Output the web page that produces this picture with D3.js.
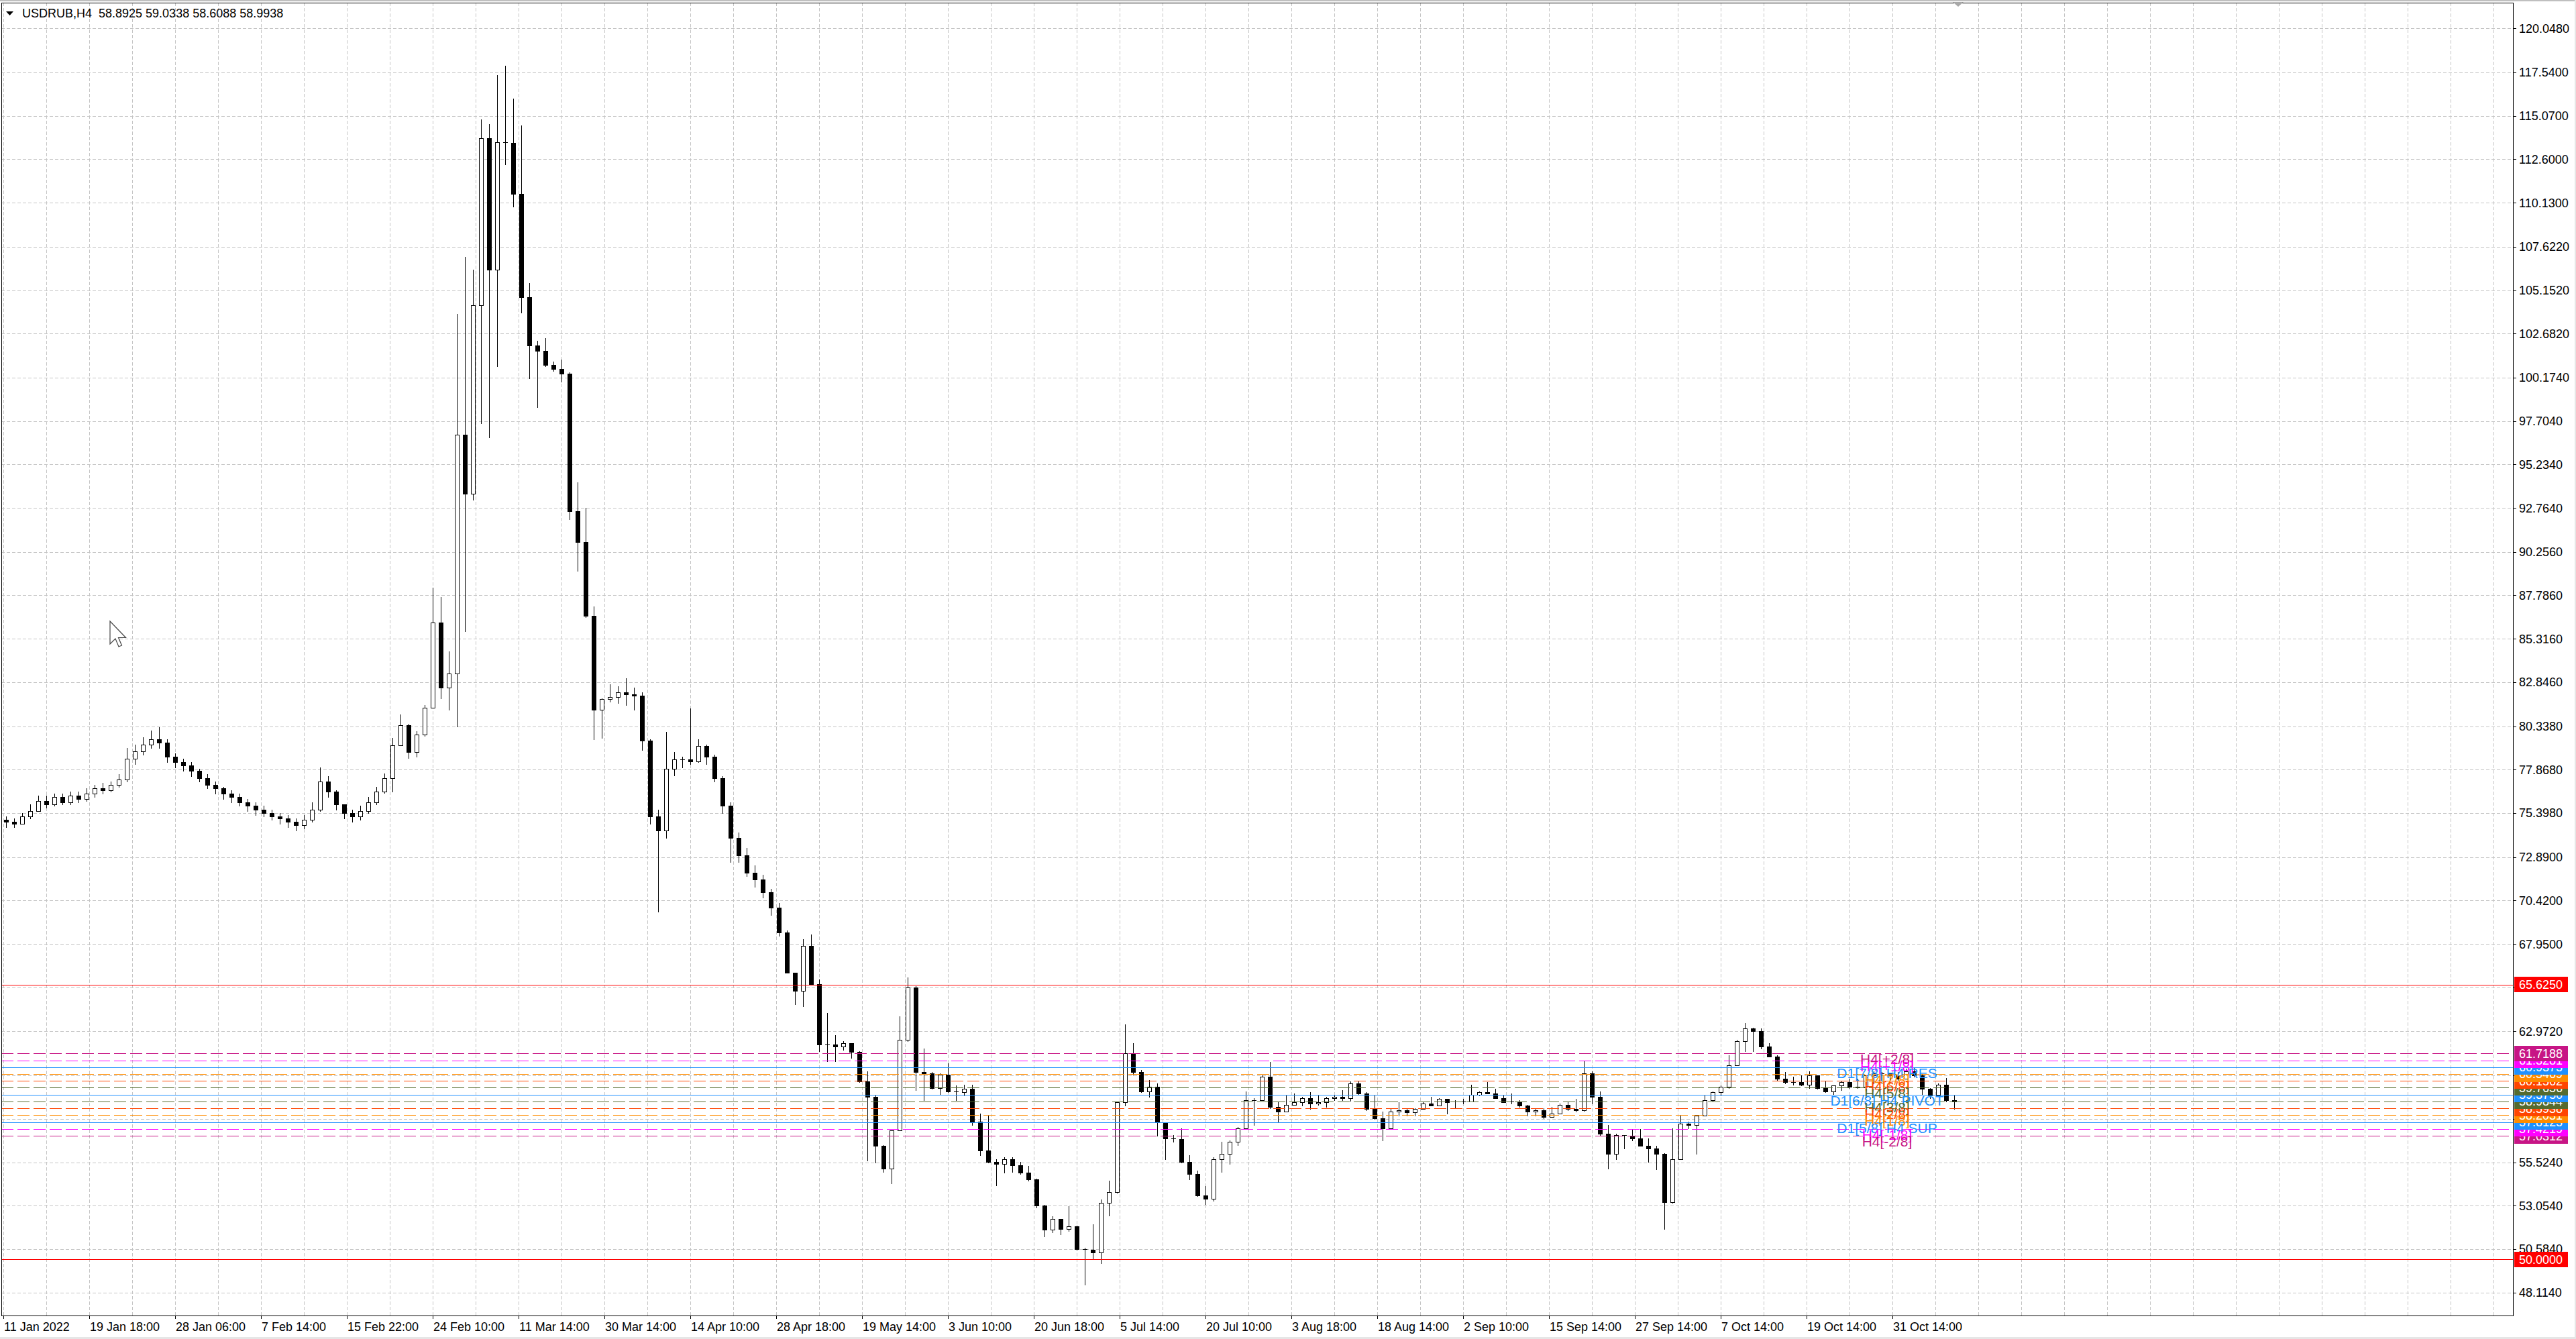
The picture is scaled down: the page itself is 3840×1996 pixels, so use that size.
<!DOCTYPE html>
<html><head><meta charset="utf-8">
<script src="https://cdn.jsdelivr.net/npm/d3@7"></script>
<style>html,body{margin:0;padding:0;background:#fff;overflow:hidden}text{font-family:"Liberation Sans",Arial,sans-serif}</style>
</head><body>
<svg id="c" width="3840" height="1996"></svg>
<script>
// ---------------- DATA ----------------
const titleText = "USDRUB,H4  58.8925 59.0338 58.6088 58.9938";
const priceTicks = [120.048,117.54,115.07,112.6,110.13,107.622,105.152,102.682,100.174,97.704,95.234,92.764,90.256,87.786,85.316,82.846,80.338,77.868,75.398,72.89,70.42,67.95,62.972,55.524,53.054,50.584,48.114];
const priceTickLabels = ["120.0480","117.5400","115.0700","112.6000","110.1300","107.6220","105.1520","102.6820","100.1740","97.7040","95.2340","92.7640","90.2560","87.7860","85.3160","82.8460","80.3380","77.8680","75.3980","72.8900","70.4200","67.9500","62.9720","55.5240","53.0540","50.5840","48.1140"];
const hiddenGridPrices = [65.461, 60.489, 58.007];
const timeLabels = ["11 Jan 2022","19 Jan 18:00","28 Jan 06:00","7 Feb 14:00","15 Feb 22:00","24 Feb 10:00","11 Mar 14:00","30 Mar 14:00","14 Apr 10:00","28 Apr 18:00","19 May 14:00","3 Jun 10:00","20 Jun 18:00","5 Jul 14:00","20 Jul 10:00","3 Aug 18:00","18 Aug 14:00","2 Sep 10:00","15 Sep 14:00","27 Sep 14:00","7 Oct 14:00","19 Oct 14:00","31 Oct 14:00"];
const barsPerLabel = 32, barsPerGrid = 16, barsPerCandle = 3;

const firstOpen = 75.0;
const closes = [
74.9,74.8,75.2,75.5,76.1,75.9,76.3,76.0,76.4,76.2,
76.5,76.8,76.7,77.0,77.3,78.5,78.9,79.3,79.6,79.4,
78.6,78.3,78.1,77.8,77.4,77.0,76.8,76.5,76.3,76.0,
75.8,75.6,75.4,75.2,75.1,74.9,74.7,75.0,75.6,77.2,
76.6,75.9,75.4,75.2,75.5,76.0,76.6,77.39,79.26,80.38,
78.86,79.85,81.40,86.22,82.52,83.33,96.93,93.58,104.29,113.79,
106.30,113.58,113.52,110.63,104.74,102.01,101.69,100.89,100.67,100.41,
92.59,90.82,86.62,81.27,81.88,81.99,82.26,82.15,82.07,79.53,
75.2,74.4,77.92,78.46,78.46,78.32,79.2,78.6,77.4,75.8,
74.0,73.0,72.0,71.6,70.9,70.0,68.6,66.31,65.29,67.84,
65.68,62.24,62.24,62.11,62.30,61.79,60.14,59.25,56.45,55.18,
57.34,62.49,65.48,60.65,60.59,59.76,60.52,59.57,59.50,59.69,
57.85,56.20,55.56,55.43,55.69,55.37,54.92,54.54,53.08,51.68,
52.31,51.74,51.87,50.60,50.53,50.41,53.20,53.84,58.93,61.73,
60.65,59.57,59.82,57.79,56.89,56.83,55.56,54.86,53.65,53.46,
55.69,56.00,56.70,57.47,59.06,59.06,60.39,58.68,58.42,58.80,
58.93,59.19,58.87,58.93,59.19,59.25,59.19,60.01,59.44,58.55,
58.04,57.47,58.42,58.49,58.36,58.55,58.87,58.74,59.12,58.93,
58.99,58.99,59.38,59.50,59.44,59.19,58.93,58.99,58.74,58.42,
58.49,58.10,58.30,58.80,58.55,58.49,60.59,59.25,57.15,56.00,
57.08,57.02,56.89,56.45,56.32,56.00,53.27,55.69,57.72,57.66,
58.17,59.06,59.50,59.82,61.03,62.43,63.13,63.00,62.11,61.54,
60.27,60.08,60.08,59.95,60.46,59.76,59.57,59.89,60.08,59.82,
59.82,60.46,60.59,60.59,60.46,60.27,60.71,60.46,59.69,59.31,
59.95,59.06,58.99];
const highs = [
75.2,75.1,75.4,75.9,76.4,76.4,76.5,76.5,76.6,76.6,
76.8,77.0,77.1,77.2,77.6,79.1,79.3,79.7,80.1,80.3,
79.6,78.8,78.5,78.3,77.9,77.6,77.2,76.9,76.7,76.5,
76.2,76.0,75.8,75.6,75.4,75.3,75.1,75.3,76.0,78.0,
77.5,76.7,75.9,75.6,75.8,76.3,76.9,77.65,79.66,81.0,
80.46,80.06,81.53,88.22,87.69,84.61,103.81,107.05,106.30,114.86,
114.59,117.40,117.94,116.07,114.54,105.55,102.28,102.41,101.08,101.21,
100.46,94.20,92.78,87.15,81.94,82.74,82.60,83.06,82.52,82.26,
79.6,75.6,80.0,78.86,78.6,81.35,79.6,79.3,78.7,77.5,
76.0,74.3,73.4,72.4,71.9,71.1,70.3,68.7,66.31,68.22,
68.5,65.93,64.02,62.75,62.43,62.30,61.86,60.71,59.38,56.51,
57.34,63.83,66.06,65.55,61.99,60.65,60.59,61.16,59.89,59.95,
59.95,58.30,58.17,55.69,55.81,55.81,55.56,55.30,54.6,53.1,
52.44,52.31,53.01,51.93,50.66,52.00,53.40,54.48,58.93,63.38,
62.30,60.78,60.21,60.01,57.79,57.08,57.47,55.94,55.05,54.16,
55.81,56.70,56.77,57.53,59.57,59.19,60.46,61.22,58.93,59.31,
59.44,59.25,59.50,59.38,59.25,59.38,59.63,60.14,60.14,59.50,
59.31,58.42,58.55,58.93,58.61,58.61,58.93,59.25,59.19,59.06,
59.06,59.12,59.95,59.57,60.08,59.69,59.31,59.44,59.06,58.80,
58.61,58.61,58.68,58.87,58.93,59.12,61.29,60.71,59.57,57.66,
57.15,57.08,57.40,57.40,56.89,56.45,56.05,57.47,58.17,57.85,
58.17,59.31,59.57,59.89,61.60,62.49,63.45,63.20,63.13,62.30,
61.60,60.65,60.40,60.46,60.71,60.46,60.14,59.89,60.14,60.27,
60.27,60.52,60.71,60.65,60.59,60.65,60.84,60.90,60.52,59.76,
60.01,60.33,59.31];
const lows = [
74.6,74.6,74.8,75.1,75.5,75.7,75.8,75.9,75.9,76.0,
76.1,76.3,76.5,76.6,76.9,77.2,78.2,78.7,79.1,79.1,
78.3,78.0,77.8,77.5,77.2,76.8,76.5,76.2,76.0,75.8,
75.5,75.3,75.2,75.0,74.8,74.6,74.4,74.5,74.9,75.5,
76.3,75.6,75.1,74.9,75.0,75.4,75.9,76.53,76.63,79.26,
78.54,78.59,79.79,81.4,81.93,81.27,80.33,85.74,93.23,97.59,
96.79,100.81,112.32,109.91,103.89,100.14,98.48,100.81,100.54,99.95,
92.11,89.16,86.54,79.61,79.66,81.72,81.67,81.53,81.27,78.99,
74.8,69.8,74.0,77.52,78.0,78.19,78.3,78.2,77.2,75.4,
72.6,72.6,71.8,71.2,70.6,69.6,68.4,66.3,64.53,64.4,
65.61,61.86,61.29,61.29,61.92,61.48,60.08,55.62,55.49,54.99,
54.32,57.40,62.4,59.63,59.06,59.69,59.38,59.50,59.06,59.31,
57.66,55.94,55.49,54.22,54.92,54.99,54.86,54.48,52.95,51.30,
51.55,51.42,51.61,50.53,48.56,50.02,49.77,52.50,53.78,58.74,
60.52,59.50,59.25,57.02,55.69,56.70,55.49,54.54,53.59,53.14,
53.33,54.99,55.43,56.51,57.40,57.66,59.06,58.61,57.85,58.61,
58.80,58.74,58.55,58.80,58.68,59.06,59.06,59.03,59.38,58.49,
57.98,56.77,57.53,58.17,58.17,58.17,58.55,58.74,58.74,58.30,
58.61,58.87,59.06,59.31,59.44,59.19,58.93,58.87,58.68,58.17,
58.17,58.04,58.23,58.42,58.49,58.42,58.45,58.87,57.02,55.18,
55.69,56.32,56.77,56.45,55.56,55.11,51.74,53.20,55.69,57.47,
56.00,58.17,58.99,59.31,59.76,61.03,61.86,61.86,61.99,61.54,
60.21,60.01,59.95,59.89,59.76,59.69,59.50,59.38,59.63,59.76,
59.76,59.82,60.01,60.01,60.01,60.20,60.27,60.40,59.38,59.19,
59.31,59.00,58.55];

const murreyLevels = [61.71875,61.328125,60.9375,60.546875,60.15625,59.765625,59.375,58.984375,58.59375,58.203125,57.8125,57.421875,57.03125];
const murreyNames = ["H4[+2/8]","H4[+1/8]","D1[7/8] H4 RES","H4[7/8]","H4[6/8]","H4[5/8]","D1[6/8] H4 PIVOT","H4[3/8]","H4[2/8]","H4[1/8]","D1[5/8] H4 SUP","H4[-1/8]","H4[-2/8]"];
const murreyPriceLabels = ["61.7188","61.3281","60.9375","60.5469","60.1562","59.7656","59.3750","58.9844","58.5938","58.2031","57.8125","57.4219","57.0312"];
const limitLevels = [65.625, 50.0];
const limitPriceLabels = ["65.6250","50.0000"];

// ---------------- STYLES ----------------
const VR="#C71585",MG="#FF00FF",DB="#1E90FF",DO="#FF8C00",OR="#FF4500",OL="#556B2F";
const murreyColors = [VR,MG,DB,DO,OR,OL,DB,OL,OR,DO,DB,MG,VR];
const murreySolid = [false,false,true,false,false,false,true,false,false,false,true,false,false];

// ---------------- LAYOUT ----------------
const P = {left:2, top:4, right:3746, bottom:1961};
const svg = d3.select("#c");
const y = d3.scaleLinear().domain([48.114,120.048]).range([1926.7,42.3]);
const x = d3.scaleLinear().domain([0,935.25]).range([5,3746]);
const cy = v => Math.round(y(v))+0.5;

svg.append("rect").attr("width",3840).attr("height",1996).attr("fill","#fff");
svg.append("rect").attr("x",0).attr("y",0).attr("width",3840).attr("height",2).attr("fill","#BFBFBF");
svg.append("rect").attr("x",0).attr("y",1993).attr("width",3840).attr("height",3).attr("fill","#E6E6E6");
svg.append("rect").attr("x",3838).attr("y",0).attr("width",2).attr("height",1996).attr("fill","#E6E6E6");

const grid = svg.append("g").attr("stroke","#C4C4C4").attr("stroke-width",1).attr("stroke-dasharray","5,3").attr("shape-rendering","crispEdges");
const gridBars = d3.range(0, 936, barsPerGrid).filter(b => x(b) < P.right-4);
grid.selectAll("line.v").data(gridBars).join("line")
  .attr("x1",b=>Math.round(x(b))+0.5).attr("x2",b=>Math.round(x(b))+0.5)
  .attr("y1",P.top).attr("y2",P.bottom);
const gridPrices = priceTicks.concat(hiddenGridPrices);
grid.selectAll("line.h").data(gridPrices).join("line")
  .attr("x1",P.left).attr("x2",P.right).attr("y1",cy).attr("y2",cy);

// candles
const cg = svg.append("g").attr("shape-rendering","crispEdges");
const candles = closes.map((c,i)=>{
  const o = i===0 ? firstOpen : closes[i-1];
  return {i, o, c, h:Math.max(highs[i],o,c), l:Math.min(lows[i],o,c)};
});
candles.forEach(d=>{
  const cx = Math.round(x(d.i*barsPerCandle+1));
  cg.append("line").attr("x1",cx+0.5).attr("x2",cx+0.5).attr("y1",Math.round(y(d.h))).attr("y2",Math.round(y(d.l))+1)
    .attr("stroke","#000").attr("stroke-width",1);
  const top = Math.round(y(Math.max(d.o,d.c))), bot = Math.round(y(Math.min(d.o,d.c)));
  const up = d.c >= d.o;
  if (bot-top < 2) {
    cg.append("line").attr("x1",cx-3).attr("x2",cx+4).attr("y1",top+0.5).attr("y2",top+0.5).attr("stroke","#000");
  } else {
    cg.append("rect").attr("x",cx-2.5).attr("y",top+0.5).attr("width",6).attr("height",bot-top)
      .attr("fill",up?"#fff":"#000").attr("stroke","#000").attr("stroke-width",1);
  }
});

// limit lines
svg.append("g").selectAll("line").data(limitLevels).join("line")
  .attr("x1",P.left).attr("x2",P.right).attr("y1",cy).attr("y2",cy)
  .attr("stroke","#FF0000").attr("stroke-width",1).attr("shape-rendering","crispEdges");

// murrey lines
svg.append("g").selectAll("line").data(murreyLevels).join("line")
  .attr("x1",P.left).attr("x2",P.right).attr("y1",cy).attr("y2",cy)
  .attr("stroke",(d,i)=>murreyColors[i]).attr("stroke-width",1)
  .attr("stroke-dasharray",(d,i)=>murreySolid[i]?null:"18,6").attr("shape-rendering","crispEdges");

// murrey texts
svg.append("g").selectAll("text").data(murreyLevels).join("text")
  .attr("x",2813).attr("y",d=>y(d)+16).attr("text-anchor","middle")
  .attr("font-size",21).attr("fill",(d,i)=>murreyColors[i]).text((d,i)=>murreyNames[i]);

// frame
svg.append("rect").attr("x",P.left+0.5).attr("y",P.top+0.5).attr("width",P.right-P.left).attr("height",P.bottom-P.top)
  .attr("fill","none").attr("stroke","#000").attr("stroke-width",1).attr("shape-rendering","crispEdges");

// right axis
const ra = svg.append("g");
ra.selectAll("line").data(gridPrices).join("line")
  .attr("x1",P.right).attr("x2",P.right+5).attr("y1",cy).attr("y2",cy).attr("stroke","#000").attr("shape-rendering","crispEdges");
ra.selectAll("text").data(priceTicks).join("text")
  .attr("x",3755).attr("y",d=>y(d)).attr("dy","0.36em").attr("font-size",18).attr("fill","#000")
  .text((d,i)=>priceTickLabels[i]);

// colored price labels: lowest first so upper ones overlap
const labelItems = murreyLevels.map((v,i)=>({v,t:murreyPriceLabels[i],c:murreyColors[i]}))
  .concat(limitLevels.map((v,i)=>({v,t:limitPriceLabels[i],c:"#FF0000"})))
  .sort((a,b)=>a.v-b.v);
const lg = svg.append("g");
labelItems.forEach(d=>{
  const yy = y(d.v);
  lg.append("rect").attr("x",3748).attr("y",Math.round(yy-11.5)).attr("width",80).attr("height",23).attr("fill",d.c);
  lg.append("text").attr("x",3755).attr("y",yy).attr("dy","0.36em").attr("font-size",18).attr("fill","#fff").text(d.t);
});

// bottom axis
const labelBars = timeLabels.map((t,i)=>i*barsPerLabel);
const ba = svg.append("g");
ba.selectAll("line").data(labelBars).join("line")
  .attr("x1",b=>Math.round(x(b))+0.5).attr("x2",b=>Math.round(x(b))+0.5).attr("y1",P.bottom).attr("y2",P.bottom+5)
  .attr("stroke","#000").attr("shape-rendering","crispEdges");
ba.selectAll("text").data(labelBars).join("text")
  .attr("x",b=>Math.round(x(b))+1).attr("y",1984).attr("font-size",18).attr("fill","#000")
  .text((b,i)=>timeLabels[i]);

// title
svg.append("path").attr("d","M9,17 L20,17 L14.5,23 Z").attr("fill","#000");
svg.append("text").attr("x",33).attr("y",26).attr("font-size",18).attr("fill","#000").attr("xml:space","preserve").style("white-space","pre").text(titleText);

// chart shift marker and mouse cursor
svg.append("path").attr("d","M2911,3 L2927,3 L2919,10 Z").attr("fill","#A8A8A8");
svg.append("path").attr("transform","translate(164,926)")
  .attr("d","M0,0 L0,34 L8,26 L13,38 L17.5,36 L12.5,24.5 L23.5,24.5 Z")
  .attr("fill","#fff").attr("stroke","#444").attr("stroke-width",1.2);
</script>
</body></html>
